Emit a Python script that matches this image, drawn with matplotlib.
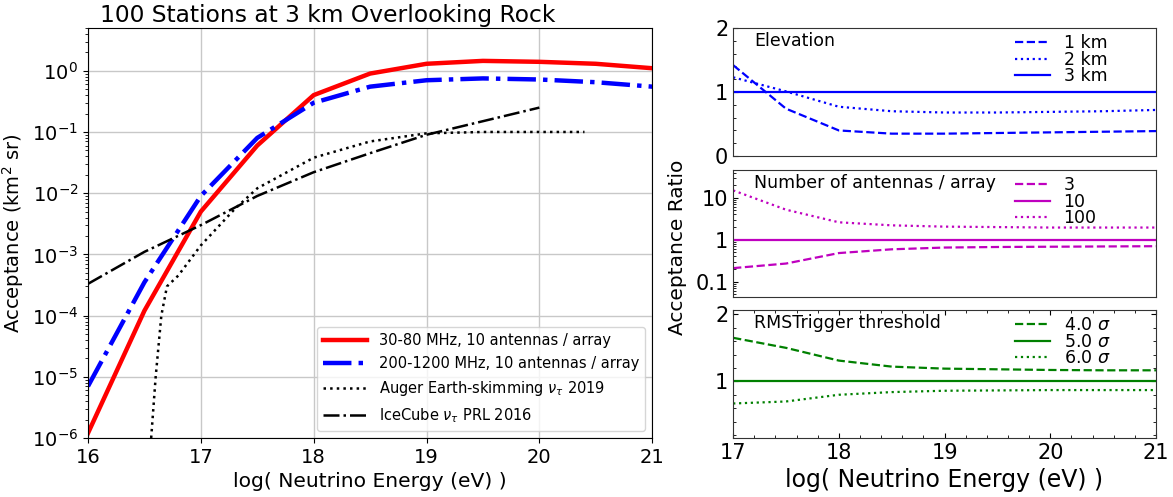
import numpy as np
import matplotlib
matplotlib.use('Agg')
import matplotlib.pyplot as plt
from matplotlib.ticker import MultipleLocator, FixedLocator, FixedFormatter, LogLocator, NullFormatter

# acceptance vs log(E) for the two radio bands
logE = [16, 16.5, 17, 17.5, 18, 18.5, 19, 19.5, 20, 20.5, 21]
acc_lowband = [1.2e-6, 1.2e-4, 5e-3, 6e-2, 0.4, 0.9, 1.3, 1.45, 1.4, 1.3, 1.1]
acc_highband = [7e-6, 3.5e-4, 9e-3, 8e-2, 0.3, 0.55, 0.7, 0.75, 0.72, 0.65, 0.55]

# published limits
logE_auger = [16.56, 16.6, 16.65, 16.7, 16.8, 17.0, 17.3, 17.5, 18.0, 18.5, 19.0, 19.5, 20.0, 20.4]
acc_auger = [1e-6, 1e-5, 1e-4, 3e-4, 4.5e-4, 1.4e-3, 5.5e-3, 1.2e-2, 3.8e-2, 7e-2, 9.5e-2, 0.1, 0.1, 0.1]
logE_icecube = [16, 16.5, 17, 17.5, 18, 18.5, 19, 19.5, 20]
acc_icecube = [3.3e-4, 1.1e-3, 3e-3, 9e-3, 2.2e-2, 4.5e-2, 9e-2, 0.15, 0.25]

# ratios relative to the reference configuration
logE_r = [17, 17.5, 18, 18.5, 19, 19.5, 20, 20.5, 21]
elev_1km = [1.42, 0.74, 0.40, 0.35, 0.35, 0.36, 0.37, 0.38, 0.39]
elev_2km = [1.23, 1.01, 0.77, 0.70, 0.68, 0.68, 0.69, 0.70, 0.72]
elev_3km = [1, 1, 1, 1, 1, 1, 1, 1, 1]
ant_3 = [0.21, 0.27, 0.48, 0.59, 0.65, 0.67, 0.68, 0.69, 0.70]
ant_10 = [1, 1, 1, 1, 1, 1, 1, 1, 1]
ant_100 = [15, 5.2, 2.6, 2.2, 2.05, 2.0, 1.95, 1.95, 1.95]
thr_4 = [1.65, 1.50, 1.31, 1.22, 1.19, 1.18, 1.17, 1.165, 1.165]
thr_5 = [1, 1, 1, 1, 1, 1, 1, 1, 1]
thr_6 = [0.67, 0.70, 0.80, 0.84, 0.86, 0.865, 0.87, 0.87, 0.87]

fig = plt.figure(figsize=(11.73, 4.97), dpi=100)

# left: absolute acceptance
ax = fig.add_axes([0.075, 0.1187, 0.481, 0.825])
ax.plot(logE, acc_lowband, color='r', lw=3.2, label='30-80 MHz, 10 antennas / array')
ax.plot(logE, acc_highband, color='b', lw=3.2, ls='-.', label='200-1200 MHz, 10 antennas / array')
ax.plot(logE_auger, acc_auger, color='k', lw=1.8, ls=':', label=r'Auger Earth-skimming $\nu_\tau$ 2019')
ax.plot(logE_icecube, acc_icecube, color='k', lw=1.8, ls='-.', label=r'IceCube $\nu_\tau$ PRL 2016')
ax.set_yscale('log')
ax.set_xlim(16, 21)
ax.set_ylim(1e-6, 5)
ax.set_yticks([1e-6, 1e-5, 1e-4, 1e-3, 1e-2, 1e-1, 1e0])
ax.yaxis.set_minor_locator(LogLocator(base=10, subs=np.arange(2, 10) * 0.1, numticks=20))
ax.yaxis.set_minor_formatter(NullFormatter())
ax.grid(True, color='#c8c8c8', lw=1)
ax.tick_params(labelsize=14)
ax.set_xlabel('log( Neutrino Energy (eV) )', fontsize=14.6)
ax.set_ylabel(r'Acceptance (km$^2$ sr)', fontsize=14)
ax.set_title('100 Stations at 3 km Overlooking Rock', fontsize=16.8, x=0.424, pad=4)
ax.legend(loc='lower right', fontsize=10.5, handlelength=3, labelspacing=0.55)

# right: ratio panels
panels = [
    dict(rect=[0.625, 0.686, 0.3605, 0.2577], color='b', title='Elevation',
         series=[(elev_1km, '--', '1 km'), (elev_2km, ':', '2 km'), (elev_3km, '-', '3 km')]),
    dict(rect=[0.625, 0.4024, 0.3605, 0.2556], color='m', title='Number of antennas / array',
         series=[(ant_3, '--', '3'), (ant_10, '-', '10'), (ant_100, ':', '100')]),
    dict(rect=[0.625, 0.1187, 0.3605, 0.2576], color='g', title='RMSTrigger threshold',
         series=[(thr_4, '--', r'4.0 $\sigma$'), (thr_5, '-', r'5.0 $\sigma$'), (thr_6, ':', r'6.0 $\sigma$')]),
]

axes = []
for p in panels:
    a = fig.add_axes(p['rect'])
    for vals, ls, lab in p['series']:
        a.plot(logE_r, vals, color=p['color'], ls=ls, lw=1.6, label=lab)
    a.set_xlim(17, 21)
    a.text(0.05, 0.9, p['title'], transform=a.transAxes, fontsize=12.5, va='center')
    a.legend(loc='upper left', bbox_to_anchor=(0.65, 1.005), frameon=False, fontsize=12.5,
             handlelength=2.0, handletextpad=0.8, labelspacing=-0.09, borderaxespad=0)
    a.tick_params(labelsize=15, direction='in')
    a.tick_params(which='minor', direction='in')
    for s in a.spines.values():
        s.set_color('#333333')
    axes.append(a)

a1, a2, a3 = axes
a1.set_ylim(0, 2)
a1.set_yticks([0, 1, 2])
a1.yaxis.set_minor_locator(MultipleLocator(0.2))
a1.set_xticks([])

a2.set_yscale('log')
a2.set_ylim(0.043, 46)
a2.yaxis.set_major_locator(FixedLocator([0.1, 1, 10]))
a2.yaxis.set_major_formatter(FixedFormatter(['0.1', '1', '10']))
a2.yaxis.set_minor_locator(LogLocator(base=10, subs=np.arange(2, 10) * 0.1, numticks=20))
a2.yaxis.set_minor_formatter(NullFormatter())
a2.set_xticks([])

a3.set_ylim(0.155, 2.065)
a3.set_yticks([1, 2])
a3.yaxis.set_minor_locator(MultipleLocator(0.2))
a3.set_xticks([17, 18, 19, 20, 21])
a3.xaxis.set_minor_locator(MultipleLocator(0.2))
a3.tick_params(which='both', top=True, right=True)
a3.set_xlabel('log( Neutrino Energy (eV) )', fontsize=17)

fig.text(0.578, 0.503, 'Acceptance Ratio', rotation=90, fontsize=14.5, ha='center', va='center')

fig.savefig('out.png', dpi=100)
